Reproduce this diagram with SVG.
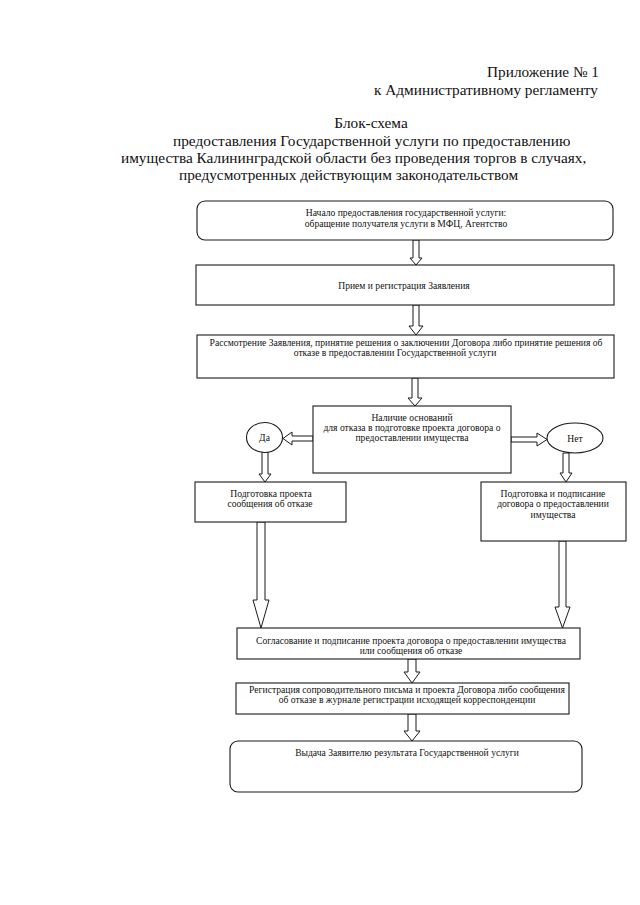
<svg xmlns="http://www.w3.org/2000/svg" width="640" height="905" viewBox="0 0 640 905">
<style>
.bg{fill:#ffffff}
.box{fill:#ffffff;stroke:#1a1a1a;stroke-width:1.1}
.arr{fill:#ffffff;stroke:#1a1a1a;stroke-width:1}
.h{font-family:"Liberation Serif","Times New Roman",serif;font-size:15.3px;fill:#111}
.t{font-family:"Liberation Serif","Times New Roman",serif;font-size:9.6px;fill:#111;text-anchor:middle}
</style>
<rect class="bg" x="0" y="0" width="640" height="905"/>
<g id="header">
<text class="h" x="599" y="77" text-anchor="end">Приложение № 1</text>
<text class="h" x="598" y="95" text-anchor="end">к Административному регламенту</text>
<text class="h" x="371" y="128" text-anchor="middle">Блок-схема</text>
<text class="h" x="173" y="146">предоставления Государственной услуги по предоставлению</text>
<text class="h" x="121" y="163">имущества Калининградской области без проведения торгов в случаях,</text>
<text class="h" x="179" y="180">предусмотренных действующим законодательством</text>
</g>
<g id="connectors">
<polygon class="arr" points="413,240 419,240 419,258 422,258 416,265 410,258 413,258"/>
<polygon class="arr" points="413,305 419,305 419,326 423,326 416,335 409,326 413,326"/>
<polygon class="arr" points="412,378 418,378 418,398 422,398 415,406 408,398 412,398"/>
<polygon class="arr" points="313,436 313,441 292,441 292,445 283,438.5 292,432 292,436"/>
<polygon class="arr" points="511,437 511,442 537,442 537,446 547,439.5 537,433 537,437"/>
<polygon class="arr" points="262,452 268,452 268,474 271,474 265,482 259,474 262,474"/>
<polygon class="arr" points="563,453 569,453 569,473 572,473 566,482 560,473 563,473"/>
<polygon class="arr" points="257,522 265,522 265,600 269,600 261,628 253,600 257,600"/>
<polygon class="arr" points="559,541 566,541 566,607 570,607 562.5,628 555,607 559,607"/>
<polygon class="arr" points="408,659 416,659 416,672 420,672 412,683 404,672 408,672"/>
<polygon class="arr" points="408,714 416,714 416,731 420,731 412,741 404,731 408,731"/>
</g>
<g id="start">
<rect class="box" x="197" y="201" width="416" height="39" rx="8"/>
<text class="t" x="406" y="216">Начало предоставления государственной услуги:</text>
<text class="t" x="406" y="227">обращение получателя услуги в МФЦ, Агентство</text>
</g>
<g id="reception">
<rect class="box" x="196" y="265" width="418" height="40"/>
<text class="t" x="404" y="289">Прием и регистрация Заявления</text>
</g>
<g id="review">
<rect class="box" x="197" y="335" width="417" height="43"/>
<text class="t" x="406" y="346">Рассмотрение Заявления, принятие решения о заключении Договора либо принятие решения об</text>
<text class="t" x="395" y="356">отказе в предоставлении Государственной услуги</text>
</g>
<g id="decision">
<rect class="box" x="313" y="406" width="198" height="67"/>
<text class="t" x="412" y="421">Наличие оснований</text>
<text class="t" x="412" y="431">для отказа в подготовке проекта договора о</text>
<text class="t" x="412" y="441">предоставлении имущества</text>
</g>
<g id="yes">
<ellipse class="box" cx="264.5" cy="437.5" rx="18" ry="15"/>
<text class="t" x="264.5" y="441">Да</text>
</g>
<g id="no">
<ellipse class="box" cx="575" cy="438" rx="28" ry="15"/>
<text class="t" x="575" y="442">Нет</text>
</g>
<g id="refusal">
<rect class="box" x="195" y="482" width="151" height="40"/>
<text class="t" x="271" y="497">Подготовка проекта</text>
<text class="t" x="270" y="507">сообщения об отказе</text>
</g>
<g id="contract">
<rect class="box" x="481" y="482" width="145" height="59"/>
<text class="t" x="553" y="497">Подготовка и подписание</text>
<text class="t" x="553" y="507">договора о предоставлении</text>
<text class="t" x="553" y="518">имущества</text>
</g>
<g id="approval">
<rect class="box" x="237" y="628" width="343" height="31"/>
<text class="t" x="411" y="644">Согласование и подписание проекта договора о предоставлении имущества</text>
<text class="t" x="411" y="654">или сообщения об отказе</text>
</g>
<g id="registration">
<rect class="box" x="236" y="683" width="333" height="31"/>
<text class="t" x="407" y="693">Регистрация сопроводительного письма и проекта Договора либо сообщения</text>
<text class="t" x="407" y="703">об отказе в журнале регистрации исходящей корреспонденции</text>
</g>
<g id="result">
<rect class="box" x="230" y="741" width="352" height="51" rx="8"/>
<text class="t" x="407" y="756">Выдача Заявителю результата Государственной услуги</text>
</g>
</svg>
